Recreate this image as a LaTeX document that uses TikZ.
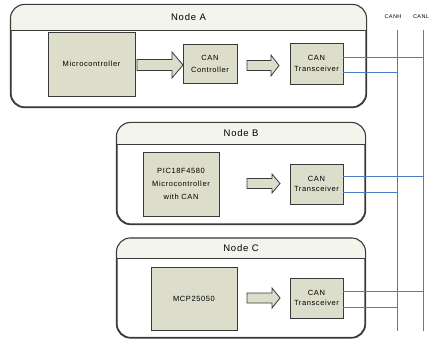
\documentclass[tikz,border=0pt]{standalone}
\usepackage{fontspec}
\setmainfont{Liberation Sans}
\newfontfamily\lblfont[LetterSpace=8]{Liberation Sans}
\definecolor{boxfill}{HTML}{DCDDCB}
\definecolor{headfill}{HTML}{F3F4EC}
\definecolor{edge}{HTML}{3A3A3A}
\definecolor{bus}{HTML}{4A7CC8}
\tikzset{
  outerbox/.style={draw=edge, line width=1.1pt, rounded corners=14pt, fill=white, inner sep=0pt},
  blockbox/.style={draw=edge, line width=0.9pt, fill=boxfill, inner sep=0pt, align=center,
    font=\lblfont\fontsize{7.5}{12}\selectfont},
  title/.style={font=\lblfont\fontsize{9.5}{11}\selectfont, inner sep=0pt},
  buslabel/.style={font=\lblfont\fontsize{5.5}{6}\selectfont, inner sep=0pt},
  busline/.style={draw=bus, line width=0.9pt},
  blockarrow/.style={draw=edge, line width=0.8pt, fill=boxfill, line join=miter}
}
\newcommand{\headerfill}[2]{%
  \begin{scope}
    \clip (#1.north west) rectangle (#1.east |- 0,#2);
    \fill[headfill, rounded corners=14pt] (#1.south west) rectangle (#1.north east);
  \end{scope}
  \draw[edge, line width=1.1pt] (#1.west |- 0,#2) -- (#1.east |- 0,#2);
  \draw[edge, line width=1.1pt, rounded corners=14pt] (#1.south west) rectangle (#1.north east);
}
% arrow: x0, x1, yc, body half, head half, head length
\newcommand{\barrow}[6]{%
  \draw[blockarrow] (#1,#3-#4) -- (#2-#6,#3-#4) -- (#2-#6,#3-#5) -- (#2,#3)
    -- (#2-#6,#3+#5) -- (#2-#6,#3+#4) -- (#1,#3+#4) -- cycle;
}
\begin{document}
\begin{tikzpicture}[x=1pt,y=-1pt]
\useasboundingbox (0,0) rectangle (435,339);

% outer nodes
\node[outerbox, minimum width=355pt, minimum height=102pt] (A) at (188.5,56) {};
\headerfill{A}{30.5}
\node[title] (tA) at (188.5,17) {Node A};

\node[outerbox, minimum width=248pt, minimum height=101pt] (B) at (241,173.5) {};
\headerfill{B}{144.5}
\node[title] (tB) at (241,133) {Node B};

\node[outerbox, minimum width=248pt, minimum height=99pt] (C) at (241,288) {};
\headerfill{C}{258.5}
\node[title] (tC) at (241,248) {Node C};

% inner blocks
\node[blockbox, minimum width=87pt, minimum height=64pt] (mcu) at (91.5,64) {Microcontroller};
\node[blockbox, minimum width=54pt, minimum height=39pt] (ctrl) at (210,63.5) {CAN\\Controller};
\node[blockbox, minimum width=53pt, minimum height=41pt, font=\lblfont\fontsize{7.5}{10.5}\selectfont] (trA) at (316.5,63.5) {CAN\\Transceiver};

\node[blockbox, minimum width=76pt, minimum height=64pt, font=\lblfont\fontsize{7.5}{13}\selectfont] (pic) at (181,184) {PIC18F4580\\Microcontroller\\with CAN};
\node[blockbox, minimum width=53pt, minimum height=40pt, font=\lblfont\fontsize{7.5}{10.5}\selectfont] (trB) at (316.5,184) {CAN\\Transceiver};

\node[blockbox, minimum width=86pt, minimum height=63pt] (mcp) at (194,298.5) {MCP25050};
\node[blockbox, minimum width=53pt, minimum height=40pt, font=\lblfont\fontsize{7.5}{10.5}\selectfont] (trC) at (316.5,298) {CAN\\Transceiver};

% block arrows
\barrow{137}{183}{65}{5.5}{13}{11}
\barrow{247}{279}{65.5}{5}{10.5}{8}
\barrow{247}{280}{183.5}{5}{9.5}{8}
\barrow{247}{280}{298}{5}{10}{8}

% bus
\node[buslabel] (lh) at (393,17) {CANH};
\node[buslabel] (ll) at (421,17) {CANL};
\coordinate (h0) at (397.5,30);
\coordinate (h1) at (397.5,331);
\coordinate (l0) at (423.5,30);
\coordinate (l1) at (423.5,331);
\draw[busline] (h0) -- (h1);
\draw[busline] (l0) -- (l1);

\draw[busline] (trA.east |- 0,57.5) -- (l0 |- 0,57.5);
\draw[busline] (trA.east |- 0,72.5) -- (h0 |- 0,72.5);
\draw[busline] (trB.east |- 0,176.5) -- (l0 |- 0,176.5);
\draw[busline] (trB.east |- 0,192.5) -- (h0 |- 0,192.5);
\draw[busline] (trC.east |- 0,291.5) -- (l0 |- 0,291.5);
\draw[busline] (trC.east |- 0,307.5) -- (h0 |- 0,307.5);
\end{tikzpicture}
\end{document}
